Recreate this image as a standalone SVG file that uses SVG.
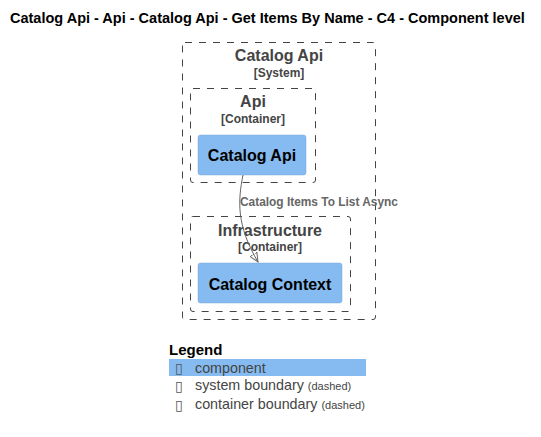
<svg xmlns="http://www.w3.org/2000/svg" width="541" height="437" viewBox="0 0 541 437">
  <style>
    text { font-family: "Liberation Sans", Arial, sans-serif; }
    .title { font-size: 14.5px; font-weight: bold; fill: #000; }
    .bnd { fill: none; stroke: #444; stroke-width: 1; stroke-dasharray: 7 7; }
    .bname { font-size: 16px; font-weight: bold; fill: #444; text-anchor: middle; }
    .btype { font-size: 12px; font-weight: bold; fill: #444; text-anchor: middle; }
    .comp { fill: #85BBF0; stroke: #78A8D8; stroke-width: 0.5; }
    .cname { font-size: 16px; font-weight: bold; fill: #000; text-anchor: middle; }
    .edge { fill: none; stroke: #666; stroke-width: 1; }
    .elabel { font-size: 11.9px; font-weight: bold; fill: #666; }
    .lgh { font-size: 15px; font-weight: bold; fill: #000; }
    .lg { font-size: 14.3px; fill: #444; }
    .lgs { font-size: 11px; fill: #444; }
    .box { font-family: "DejaVu Sans", sans-serif; font-size: 14px; fill: #555; }
  </style>
  <defs>
    <marker id="arrow" viewBox="0 0 10 10" refX="9" refY="5" markerWidth="10" markerHeight="10" markerUnits="userSpaceOnUse" orient="auto">
      <path d="M0,1 L9,5 L0,9 Z" fill="none" stroke="#666" stroke-width="1"/>
    </marker>
  </defs>

  <rect width="541" height="437" fill="#fff"/>
  <text class="title" x="10" y="23">Catalog Api - Api - Catalog Api - Get Items By Name - C4 - Component level</text>

  <g id="system-catalog-api">
    <rect class="bnd" x="182.5" y="42.5" width="193" height="277" rx="2.5"/>
    <text class="bname" x="279" y="61">Catalog Api</text>
    <text class="btype" x="279" y="77">[System]</text>
  </g>

  <g id="container-api">
    <rect class="bnd" x="190.5" y="88.5" width="125" height="94" rx="2.5"/>
    <text class="bname" x="253" y="107">Api</text>
    <text class="btype" x="253" y="123">[Container]</text>
  </g>

  <g id="container-infrastructure">
    <rect class="bnd" x="190.5" y="216.5" width="160" height="95" rx="2.5"/>
    <text class="bname" x="270" y="236">Infrastructure</text>
    <text class="btype" x="270" y="251">[Container]</text>
  </g>

  <g id="component-catalog-api">
    <rect class="comp" x="198" y="135" width="108" height="40" rx="2.5"/>
    <text class="cname" x="252" y="161">Catalog Api</text>
  </g>

  <g id="component-catalog-context">
    <rect class="comp" x="198" y="263" width="144" height="40" rx="2.5"/>
    <text class="cname" x="270" y="290">Catalog Context</text>
  </g>

  <g id="connectors">
    <path class="edge" d="M243,175 C238,200 236,225 258,262" marker-end="url(#arrow)"/>
    <text class="elabel" x="240" y="206">Catalog Items To List Async</text>
  </g>

  <g id="legend">
    <text class="lgh" x="169" y="355">Legend</text>
    <rect x="169" y="359" width="197" height="17" fill="#85BBF0"/>
    <text class="box" x="175" y="373">▯</text>
    <text class="lg" x="195" y="373">component</text>
    <text class="box" x="175" y="391">▯</text>
    <text class="lg" x="195" y="390">system boundary <tspan class="lgs">(dashed)</tspan></text>
    <text class="box" x="175" y="410">▯</text>
    <text class="lg" x="195" y="409">container boundary <tspan class="lgs">(dashed)</tspan></text>
  </g>
</svg>
